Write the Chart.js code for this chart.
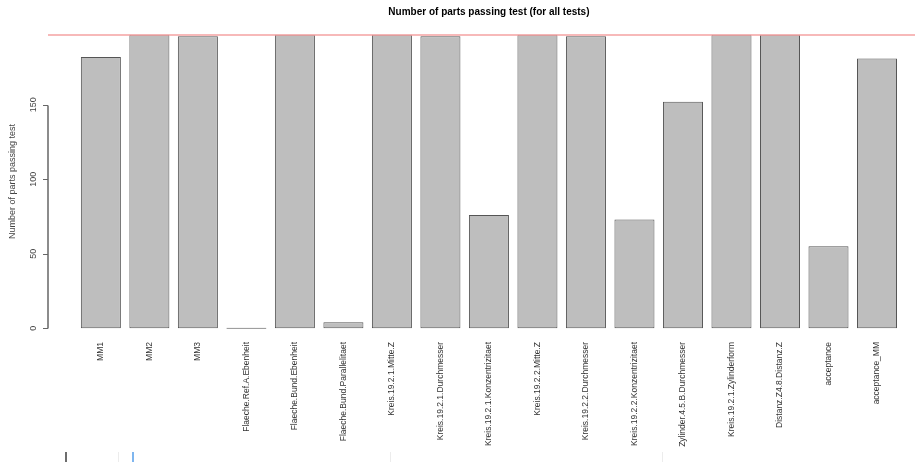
<!DOCTYPE html>
<html>
<head>
<meta charset="utf-8">
<title>Number of parts passing test</title>
<script src="https://cdn.jsdelivr.net/npm/chart.js@4.4.0/dist/chart.umd.min.js"></script>
<style>
    html, body { margin: 0; padding: 0; background: #fff; overflow: hidden; }
    #contenedor { position: relative; width: 915px; height: 462px; }
    .marca { position: absolute; top: 452px; width: 1px; height: 10px; }
</style>
</head>
<body>
<div id="contenedor">
    <canvas id="grafico" width="915" height="462"></canvas>
    <div class="marca" style="left:65px;background:#6d6d6d;width:2px;"></div>
    <div class="marca" style="left:118px;background:#ececec;"></div>
    <div class="marca" style="left:132px;background:#7fb6ef;width:2px;"></div>
    <div class="marca" style="left:390px;background:#ececec;"></div>
    <div class="marca" style="left:662px;background:#ececec;"></div>
</div>
<script>
//Datos del grafico
var categorias = [
    'MM1', 'MM2', 'MM3',
    'Flaeche.Ref.A.Ebenheit', 'Flaeche.Bund.Ebenheit', 'Flaeche.Bund.Parallelitaet',
    'Kreis.19.2.1.Mitte.Z', 'Kreis.19.2.1.Durchmesser', 'Kreis.19.2.1.Konzentrizitaet',
    'Kreis.19.2.2.Mitte.Z', 'Kreis.19.2.2.Durchmesser', 'Kreis.19.2.2.Konzentrizitaet',
    'Zylinder.4.5.B.Durchmesser', 'Kreis.19.2.1.Zylinderform', 'Distanz.Z4.8.Distanz.Z',
    'acceptance', 'acceptance_MM'
];
var piezasAprobadas = [182, 197, 196, 0, 197, 4, 197, 196, 76, 197, 196, 73, 152, 197, 197, 55, 181];
var totalPiezas = 197;
var ticksY = [0, 50, 100, 150];
var titulo = 'Number of parts passing test (for all tests)';
var tituloY = 'Number of parts passing test';

//Posicion de cada barra como en barplot de R (ancho 1, espacio 0.2)
var posicionesX = categorias.map(function (c, i) { return 0.7 + 1.2 * i; });

var fuente = '"Liberation Sans", Arial, sans-serif';

//Ejes, titulo y linea roja dibujados a mano al estilo de R
var estiloR = {
    id: 'estiloR',
    afterDatasetsDraw: function (chart) {
        var ctx = chart.ctx;
        var area = chart.chartArea;
        var ejeY = chart.scales.y;
        var ejeX = chart.scales.x;

        ctx.save();

        //Linea del total de piezas
        var yTotal = Math.round(ejeY.getPixelForValue(totalPiezas));
        ctx.strokeStyle = '#f4a2a2';
        ctx.lineWidth = 1.5;
        ctx.beginPath();
        ctx.moveTo(area.left, yTotal);
        ctx.lineTo(area.right, yTotal);
        ctx.stroke();

        //Eje Y (solo de 0 a 150, como en R)
        var xEje = Math.round(area.left);
        var yMin = Math.round(ejeY.getPixelForValue(ticksY[0])) + 0.5;
        var yMax = Math.round(ejeY.getPixelForValue(ticksY[ticksY.length - 1])) + 0.5;
        ctx.strokeStyle = '#666';
        ctx.lineWidth = 1.5;
        ctx.beginPath();
        ctx.moveTo(xEje, yMin);
        ctx.lineTo(xEje, yMax);
        ctx.stroke();

        ctx.lineWidth = 1;
        ctx.beginPath();
        ticksY.forEach(function (t) {
            var y = Math.round(ejeY.getPixelForValue(t)) + 0.5;
            ctx.moveTo(xEje, y);
            ctx.lineTo(xEje - 5, y);
        });
        ctx.stroke();

        ctx.fillStyle = '#444';
        ctx.font = '9px ' + fuente;
        ctx.textAlign = 'center';
        ctx.textBaseline = 'middle';
        ticksY.forEach(function (t) {
            ctx.save();
            ctx.translate(area.left - 14, ejeY.getPixelForValue(t));
            ctx.rotate(-Math.PI / 2);
            ctx.fillText(String(t), 0, 0);
            ctx.restore();
        });

        ctx.save();
        ctx.translate(13, (area.top + area.bottom) / 2);
        ctx.rotate(-Math.PI / 2);
        ctx.fillText(tituloY, 0, 0);
        ctx.restore();

        //Titulo centrado sobre la region del grafico de R
        var derecha = ejeX.getPixelForValue(posicionesX[posicionesX.length - 1] + 0.5 + 0.808);
        ctx.fillStyle = '#000';
        ctx.font = 'bold 10px ' + fuente;
        ctx.fillText(titulo, (area.left + derecha) / 2, 12);

        ctx.restore();
    }
};

var ctx = document.getElementById('grafico').getContext('2d');

var graficoBarras = new Chart(ctx, {
    type: 'bar',
    data: {
        datasets: [{
            label: tituloY,
            data: posicionesX.map(function (x, i) { return { x: x, y: piezasAprobadas[i] }; }),
            backgroundColor: '#bebebe',
            borderColor: '#555',
            borderWidth: 1,
            borderSkipped: false,
            barPercentage: 0.825,
            categoryPercentage: 1,
            minBarLength: 1
        }]
    },
    options: {
        responsive: false,
        animation: false,
        layout: {
            padding: { top: 23, left: 48, right: 0, bottom: 0 }
        },
        plugins: {
            legend: { display: false },
            title: { display: false },
            tooltip: { enabled: false }
        },
        scales: {
            x: {
                type: 'linear',
                offset: false,
                min: -0.608,
                max: 20.84,
                grid: { display: false, drawTicks: false, offset: false },
                border: { display: false },
                afterBuildTicks: function (scale) {
                    scale.ticks = posicionesX.map(function (v) { return { value: v }; });
                },
                afterFit: function (scale) {
                    scale.height = 122;
                },
                ticks: {
                    autoSkip: false,
                    minRotation: 90,
                    maxRotation: 90,
                    padding: 2,
                    color: '#333',
                    font: { family: fuente, size: 8.5 },
                    callback: function (valor, indice) {
                        return categorias[indice];
                    }
                }
            },
            y: {
                display: false,
                min: -7.88,
                max: 204.88
            }
        }
    },
    plugins: [estiloR]
});
</script>
</body>
</html>
